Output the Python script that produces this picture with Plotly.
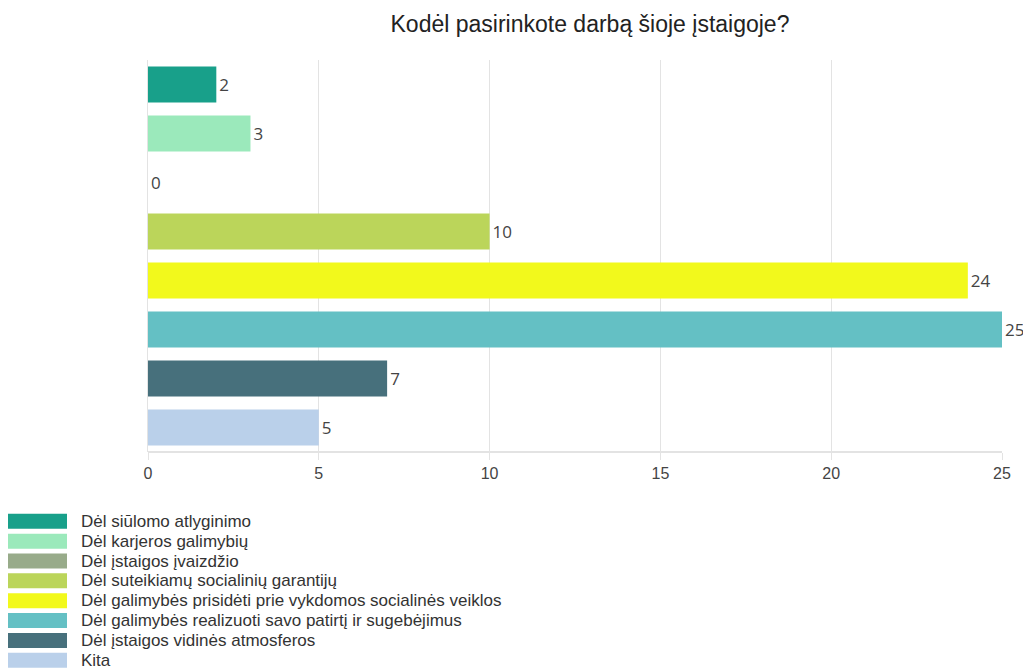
import plotly.graph_objects as go

categories = [
    "Dėl siūlomo atlyginimo",
    "Dėl karjeros galimybių",
    "Dėl įstaigos įvaizdžio",
    "Dėl suteikiamų socialinių garantijų",
    "Dėl galimybės prisidėti prie vykdomos socialinės veiklos",
    "Dėl galimybės realizuoti savo patirtį ir sugebėjimus",
    "Dėl įstaigos vidinės atmosferos",
    "Kita",
]
values = [2, 3, 0, 10, 24, 25, 7, 5]
colors = ["#18a08a", "#9be9bb", "#98ab8a", "#bbd55a", "#f2f91c", "#64c0c4", "#47707c", "#bad0ea"]
x_ticks = [0, 5, 10, 15, 20, 25]
title = "Kodėl pasirinkote darbą šioje įstaigoje?"

# page body has an 8px margin; work in window pixels and subtract it
OFF = 8
W, H = 1031 - OFF, 669 - OFF
ml, mt = 148 - OFF, 60 - OFF
mr = 1031 - 1002
mb = 669 - 452
pw, ph = W - ml - mr, H - mt - mb

def px_x(p):
    return (p - OFF - ml) / pw

def px_y(p):
    return (H + OFF - mb - p) / ph

fig = go.Figure()
for cat, val, col in zip(categories, values, colors):
    fig.add_trace(go.Bar(
        y=[cat], x=[val], orientation="h",
        marker=dict(color=col, line=dict(width=0)),
        width=0.73,
        text=[str(val)], textposition="outside",
        textfont=dict(family="Open Sans", size=17, color="#444444"),
        cliponaxis=False, showlegend=False, name=cat,
    ))

shapes = []
annotations = []
for i, (cat, col) in enumerate(zip(categories, colors)):
    cy = 521.3 + 19.85 * i
    shapes.append(dict(type="rect", xref="paper", yref="paper",
                       x0=px_x(8), x1=px_x(67), y0=px_y(cy + 7.5), y1=px_y(cy - 7.5),
                       fillcolor=col, line=dict(width=0)))
    annotations.append(dict(xref="paper", yref="paper", x=px_x(79), y=px_y(cy),
                            text=cat, showarrow=False, xanchor="left", yanchor="middle",
                            font=dict(family="Liberation Sans", size=17, color="#333333")))

fig.update_layout(
    width=W, height=H,
    margin=dict(l=ml, r=mr, t=mt, b=mb),
    paper_bgcolor="white", plot_bgcolor="white",
    title=dict(text=title, x=(590 - OFF) / W, xanchor="center", y=1 - (24 - OFF) / H, yanchor="middle",
               font=dict(family="Liberation Sans", size=23, color="#222222")),
    shapes=shapes, annotations=annotations,
    font=dict(family="Liberation Sans"),
)
fig.update_xaxes(
    range=[0, 25], tickvals=x_ticks, ticktext=[str(t) for t in x_ticks],
    showgrid=True, gridcolor="#e3e3e3", gridwidth=1,
    zeroline=False, showline=False,
    ticks="outside", ticklen=7, tickcolor="#e3e3e3",
    tickfont=dict(family="Liberation Sans", size=16, color="#444444"),
)
fig.update_yaxes(
    autorange="reversed", showticklabels=False, showgrid=False,
    zeroline=False, showline=True, linecolor="#e3e3e3", linewidth=1,
    mirror=False, ticks="",
)
fig.add_shape(type="line", xref="paper", yref="paper", x0=0, x1=1, y0=0, y1=0,
              line=dict(color="#e3e3e3", width=2))

fig.write_html("out.html")
